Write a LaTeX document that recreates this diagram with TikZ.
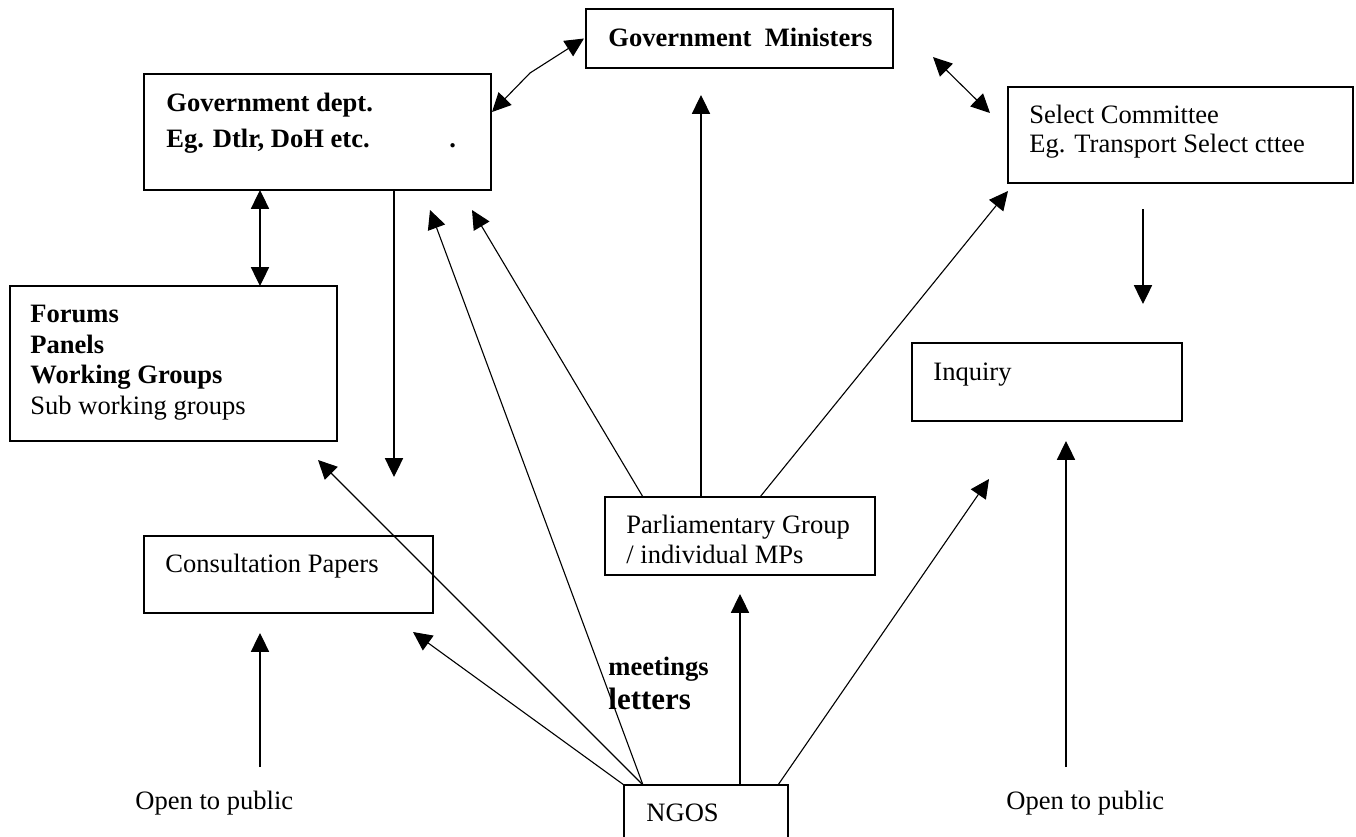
\documentclass[tikz,border=0pt]{standalone}
\usepackage{fontspec}
\setmainfont{Liberation Serif}
\usetikzlibrary{arrows.meta,calc}
\begin{document}
\begin{tikzpicture}[x=0.452pt,y=-0.452pt,
  box/.style={draw, line width=0.6pt, inner sep=0pt, outer sep=0pt, anchor=north west},
  lbl/.style={anchor=base west, inner sep=0pt, font=\fontsize{12pt}{14pt}\selectfont},
  bl/.style={anchor=base west, inner sep=0pt, font=\fontsize{12pt}{14pt}\selectfont\bfseries},
  conn/.style={line width=0.5pt, -{Triangle[length=8.5pt,width=8.2pt]}},
  dconn/.style={line width=0.5pt, {Triangle[length=8.5pt,width=8.2pt]}-{Triangle[length=8.5pt,width=8.2pt]}}]
\useasboundingbox (0,0) rectangle (1356,836);
\fill[white] (0,0) rectangle (1356,836);
\clip (0,0) rectangle (1356,836);

% boxes
\node[box, minimum width=307*0.452pt, minimum height=59*0.452pt]  (mins)   at (586,9)   {};
\node[box, minimum width=347*0.452pt, minimum height=116*0.452pt] (dept)   at (144,74)  {};
\node[box, minimum width=345*0.452pt, minimum height=96*0.452pt]  (sel)    at (1008,87) {};
\node[box, minimum width=327*0.452pt, minimum height=155*0.452pt] (forums) at (10,286)  {};
\node[box, minimum width=270*0.452pt, minimum height=78*0.452pt]  (inq)    at (912,343) {};
\node[box, minimum width=270*0.452pt, minimum height=78*0.452pt]  (parl)   at (605,497) {};
\node[box, minimum width=289*0.452pt, minimum height=77*0.452pt]  (cons)   at (144,536) {};
\node[box, minimum width=164*0.452pt, minimum height=80*0.452pt]  (ngos)   at (624,785) {};

% box texts
\node[bl] (minsT) at (608,46) {Government\ \ Ministers};
\node[bl] (deptT1) at (166,111) {Government dept.};
\node[bl] (deptT2) at (166,147) {Eg. Dtlr, DoH etc.\hspace{36pt}.};
\node[lbl] (selT1) at (1029,123) {Select Committee};
\node[lbl] (selT2) at (1029,152) {Eg. Transport Select cttee};
\node[bl] (forT1) at (30,322) {Forums};
\node[bl] (forT2) at (30,353) {Panels};
\node[bl] (forT3) at (30,383) {Working Groups};
\node[lbl] (forT4) at (30,414) {Sub working groups};
\node[lbl] (inqT) at (933,380) {Inquiry};
\node[lbl] (parlT1) at (626,533) {Parliamentary Group};
\node[lbl] (parlT2) at (626,563) {/ individual MPs};
\node[lbl] (consT) at (165,572) {Consultation Papers};
\node[lbl] (ngosT) at (646,821) {NGOS};

% free labels
\node[bl] (meet) at (608,675) {meetings};
\node[anchor=base west, inner sep=0pt, font=\fontsize{14pt}{16pt}\selectfont\bfseries] (lett) at (608,709) {letters};
\node[lbl] (open1) at (135,809) {Open to public};
\node[lbl] (open2) at (1006,809) {Open to public};

% free arrow ends
\coordinate (bend)     at (530,73);
\coordinate (msA)      at (933,57);
\coordinate (msB)      at (990,113);
\coordinate (deptDown) at (394,477);
\coordinate (selOut)   at (1143,209);
\coordinate (inqIn)    at (1143,304);
\coordinate (pd)       at (472,210);
\coordinate (pm)       at (701,95);
\coordinate (ps)       at (1008,191);
\coordinate (nc)       at (413,632);
\coordinate (nf)       at (318,460);
\coordinate (nd)       at (430,210);
\coordinate (np)       at (740,594);
\coordinate (ni)       at (989,479);
\coordinate (o1)       at (260,767);
\coordinate (o1t)      at (260,633);
\coordinate (o2)       at (1066,767);
\coordinate (o2t)      at (1066,441);

% connectors between the department, ministers and committee
\draw[dconn] ($(dept.south west)+(116,0)$) -- ($(forums.north west)+(250,0)$);
\draw[dconn] ($(dept.north east)+(1,38)$) -- (bend) -- ($(mins.west)+(-2,0)$);
\draw[dconn] (msA) -- (msB);
\draw[conn] ($(dept.south west)+(250,0)$) -- (deptDown);
\draw[conn] (selOut) -- (inqIn);

% parliamentary group
\draw[conn] ($(parl.north west)+(38,0)$) -- (pd);
\draw[conn] ($(parl.north west)+(96,0)$) -- (pm);
\draw[conn] ($(parl.north west)+(155,0)$) -- (ps);

% NGOs
\draw[conn] (ngos.north west) -- (nc);
\draw[conn] ($(ngos.north west)+(19,0)$) -- (nf);
\draw[conn] ($(ngos.north west)+(19,0)$) -- (nd);
\draw[conn] ($(ngos.north west)+(116,0)$) -- (np);
\draw[conn] ($(ngos.north west)+(154,0)$) -- (ni);

% public access
\draw[conn] (o1) -- (o1t);
\draw[conn] (o2) -- (o2t);
\end{tikzpicture}
\end{document}
